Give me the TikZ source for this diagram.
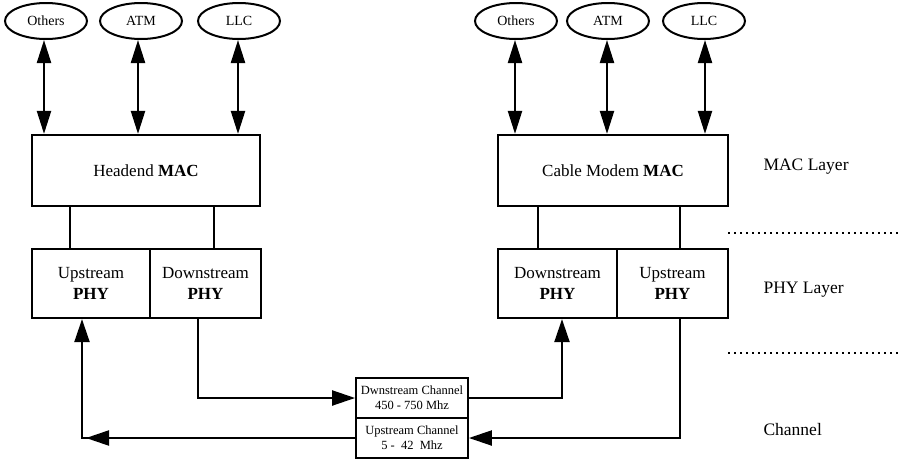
\documentclass[tikz,border=0pt]{standalone}
\usepackage{fontspec}
\setmainfont{Liberation Serif}
\usetikzlibrary{arrows.meta,shapes.geometric}
\tikzset{
  ell/.style={draw,line width=2pt,ellipse,minimum width=82pt,minimum height=36pt,inner sep=0pt,font=\fontsize{14}{16}\selectfont},
  box/.style={draw,line width=2.2pt,rectangle,inner sep=0pt,align=center,font=\fontsize{17}{21}\selectfont},
  chbox/.style={draw,line width=1.8pt,rectangle,inner sep=0pt,align=center,minimum width=112pt,minimum height=40pt,font=\fontsize{12.5}{15}\selectfont},
  dbl/.style={line width=2.2pt,{Triangle[length=23pt,width=14pt]}-{Triangle[length=23pt,width=14pt]}},
  arr/.style={line width=2.2pt,-{Triangle[length=23pt,width=15pt]}},
  plain/.style={line width=2pt},
  lay/.style={anchor=west,font=\fontsize{17.5}{20}\selectfont},
  dots/.style={line width=1.8pt,dash pattern=on 1.8pt off 4.2pt}
}
\begin{document}
\begin{tikzpicture}[x=1pt,y=-1pt]
\useasboundingbox (0,0) rectangle (898,461);
% left side
\node[ell] (O1) at (46,21) {Others};
\node[ell] (A1) at (141,21) {ATM};
\node[ell] (L1) at (239,21) {LLC};
\node[box,minimum width=228pt,minimum height=71pt] (M1) at (146,170.5) {Headend \textbf{MAC}};
\node[box,minimum width=118pt,minimum height=69pt] (UL) at (91,283.5) {Upstream\\\textbf{PHY}};
\node[box,minimum width=111pt,minimum height=69pt] (DL) at (205.5,283.5) {Downstream\\\textbf{PHY}};
% right side
\node[ell] (O2) at (516,21) {Others};
\node[ell] (A2) at (608,21) {ATM};
\node[ell] (L2) at (704,21) {LLC};
\node[box,minimum width=230pt,minimum height=71pt] (M2) at (613,170.5) {Cable Modem \textbf{MAC}};
\node[box,minimum width=119pt,minimum height=69pt] (DR) at (557.5,283.5) {Downstream\\\textbf{PHY}};
\node[box,minimum width=111pt,minimum height=69pt] (UR) at (672.5,283.5) {Upstream\\\textbf{PHY}};
% channel
\node[chbox] (CD) at (412,398) {Dwnstream Channel\\450 - 750 Mhz};
\node[chbox] (CU) at (412,438) {Upstream Channel\\5 -\ \ 42\ \ Mhz};
% layer labels
\node[lay] (LM) at (760,167) {MAC Layer};
\node[lay] (LP) at (760,290) {PHY Layer};
\node[lay] (LC) at (760,430) {Channel};
\coordinate (d1a) at (728,233); \coordinate (d1b) at (898,233);
\coordinate (d2a) at (728,353); \coordinate (d2b) at (898,353);
\draw[dots] (d1a) -- (d1b);
\draw[dots] (d2a) -- (d2b);
% vertical double arrows
\foreach \n/\m/\dx in {O1/M1/-2,A1/M1/-3,L1/M1/-1,O2/M2/-1,A2/M2/-1,L2/M2/1}{
  \draw[dbl] ([xshift=\dx pt]\n.south) -- ([xshift=\dx pt]\n.south |- \m.north);
}
% MAC to PHY lines
\draw[plain] ([xshift=-76pt]M1.south) -- ([xshift=-76pt]M1.south |- UL.north);
\draw[plain] ([xshift=68pt]M1.south) -- ([xshift=68pt]M1.south |- DL.north);
\draw[plain] ([xshift=-75pt]M2.south) -- ([xshift=-75pt]M2.south |- DR.north);
\draw[plain] ([xshift=67pt]M2.south) -- ([xshift=67pt]M2.south |- UR.north);
% channel connections
\draw[arr] ([xshift=-7.5pt]DL.south) |- (CD.west);
\draw[arr] (CD.east) -| ([xshift=4.5pt]DR.south);
\draw[arr] ([xshift=7.5pt]UR.south) |- (CU.east);
\coordinate (cnr) at ([xshift=-9pt]UL.south |- CU.west);
\draw[arr] (CU.west) -| ([xshift=-9pt]UL.south);
\draw[arr] (CU.west) -- ([xshift=4pt]cnr);
\end{tikzpicture}
\end{document}
